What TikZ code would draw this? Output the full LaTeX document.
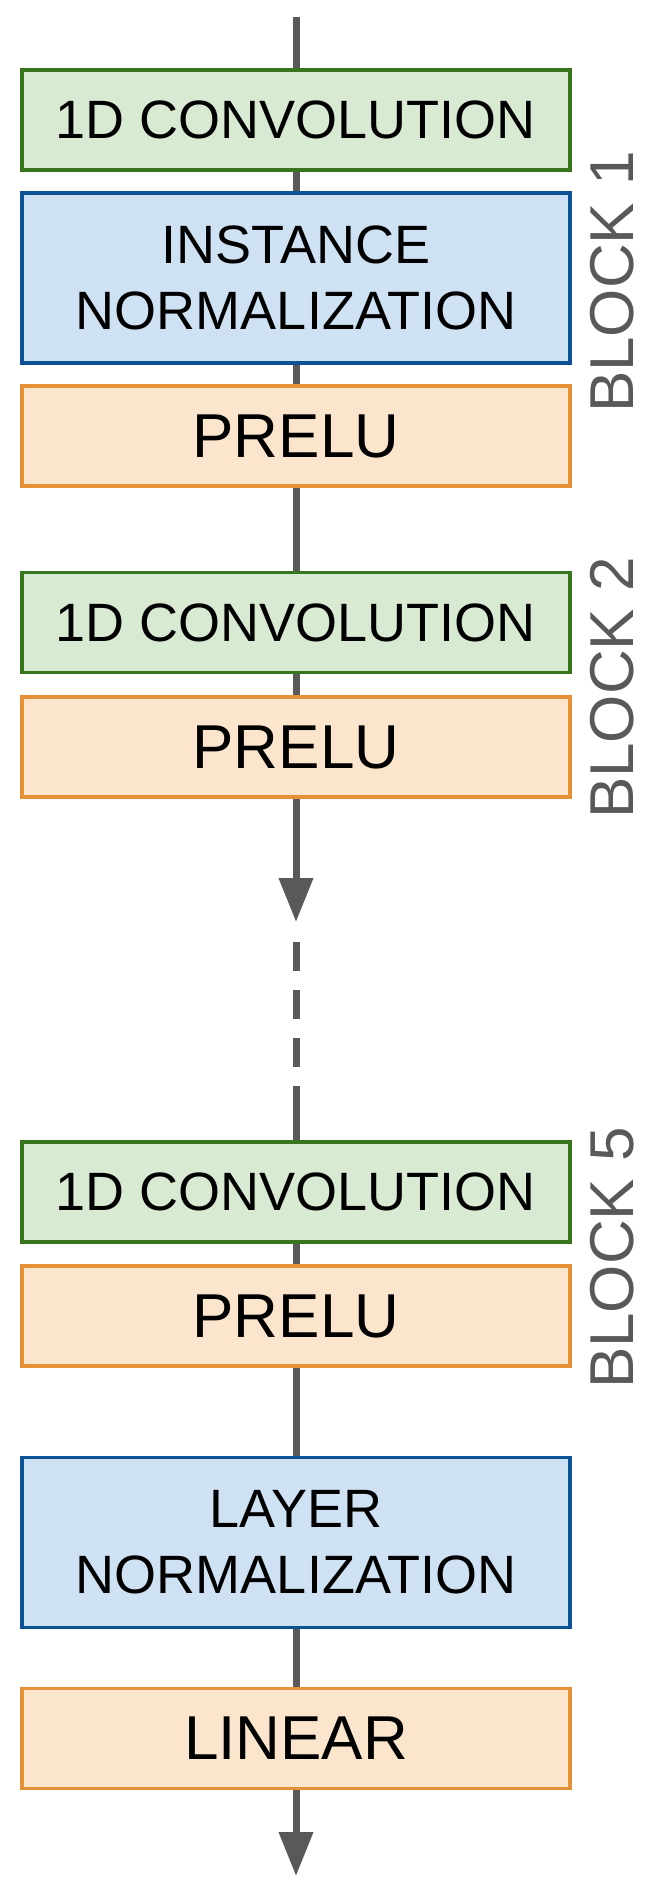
\documentclass[tikz,border=0pt]{standalone}
\usepackage{fontspec}
\setmainfont{Liberation Sans}
\usetikzlibrary{arrows.meta}
\definecolor{gline}{HTML}{595959}
\definecolor{gd}{HTML}{38761D}\definecolor{gf}{HTML}{D9EAD3}
\definecolor{bd}{HTML}{0B5394}\definecolor{bf}{HTML}{CFE2F3}
\definecolor{od}{HTML}{E69138}\definecolor{of}{HTML}{FCE5CD}
\begin{document}
\begin{tikzpicture}[x=1pt,y=-1pt,
  box/.style={draw,line width=3.5pt,minimum width=548pt,inner sep=0pt,align=center,font=\fontsize{54}{66}\selectfont},
  conv/.style={box,draw=gd,fill=gf,minimum height=100pt},
  inorm/.style={box,draw=bd,fill=bf,minimum height=170pt},
  act/.style={box,draw=od,fill=of,minimum height=100pt,font=\fontsize{62}{70}\selectfont},
  conn/.style={draw=gline,line width=7pt},
  arr/.style={conn,-{Triangle[length=44pt,width=33pt]}},
  blk/.style={rotate=90,text=gline,font=\fontsize{62}{70}\selectfont}]
\useasboundingbox (0,0) rectangle (655,1898);
\coordinate (top) at (296,17);
\node[conv] (c1) at (296,120) {1D CONVOLUTION};
\node[inorm] (n1) at (296,278) {INSTANCE\\NORMALIZATION};
\node[act] (p1) at (296,436) {PRELU};
\node[conv] (c2) at (296,622.5) {1D CONVOLUTION};
\node[act] (p2) at (296,747) {PRELU};
\coordinate (t1) at (296,922);
\coordinate (d1) at (296,942);
\coordinate (d2) at (296,1086);
\node[conv] (c5) at (296,1192) {1D CONVOLUTION};
\node[act] (p5) at (296,1316) {PRELU};
\node[inorm] (ln) at (296,1542.5) {LAYER\\NORMALIZATION};
\node[act] (li) at (296,1738.5) {LINEAR};
\coordinate (t2) at (296,1876);
\draw[conn] (top) -- (c1.north);
\draw[conn] (c1) -- (n1);
\draw[conn] (n1) -- (p1);
\draw[conn] (p1) -- (c2);
\draw[conn] (c2) -- (p2);
\draw[arr] (p2.south) -- (t1);
\draw[conn,dash pattern=on 29pt off 19pt] (d1) -- (d2);
\draw[conn] (d2) -- (c5.north);
\draw[conn] (c5) -- (p5);
\draw[conn] (p5) -- (ln);
\draw[conn] (ln) -- (li);
\draw[arr] (li.south) -- (t2);
\node[blk] (b1) at (612,282) {BLOCK 1};
\node[blk] (b2) at (612,688) {BLOCK 2};
\node[blk] (b5) at (612,1258) {BLOCK 5};
\end{tikzpicture}
\end{document}
